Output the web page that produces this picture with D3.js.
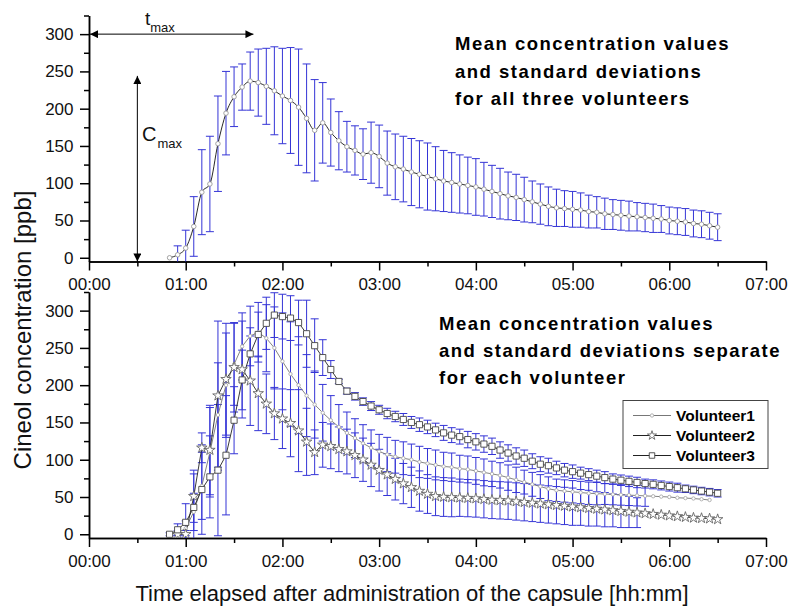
<!DOCTYPE html>
<html>
<head>
<meta charset="utf-8">
<script src="https://cdnjs.cloudflare.com/ajax/libs/d3/7.8.5/d3.min.js"></script>
<style>
  body { margin: 0; background: #fff; }
  svg { font-family: "Liberation Sans", Arial, sans-serif; }
  .axis path, .axis line { stroke: #000; stroke-width: 1.5; }
  .axis text { font-size: 17px; fill: #111; font-family: "Liberation Sans", Arial, sans-serif; }
</style>
</head>
<body>
<div id="chart"></div>
<script>

// sampling times, minutes after administration
var times = [50, 55, 60, 65, 70, 75, 80, 85, 90, 95, 100, 105, 110, 115, 120,
  125, 130, 135, 140, 145, 150, 155, 160, 165, 170, 175, 180, 185, 190, 195,
  200, 205, 210, 215, 220, 225, 230, 235, 240, 245, 250, 255, 260, 265, 270,
  275, 280, 285, 290, 295, 300, 305, 310, 315, 320, 325, 330, 335, 340, 345,
  350, 355, 360, 365, 370, 375, 380, 385, 390];

// mean of all three volunteers
var meanAll = [0, 4, 13, 42, 88, 99, 153, 194, 216, 229, 237, 235, 230, 224, 217,
  211, 202, 187, 171, 181, 168, 157, 149, 144, 139, 141, 136, 127, 122, 119,
  115, 112, 109, 106, 103, 101, 99, 97, 95, 92, 89, 86, 83, 81, 78,
  75, 72, 69, 67, 66, 65, 64, 62, 61, 59, 58, 57, 56, 55, 54,
  53, 52, 50, 49, 48, 46, 45, 43, 41];
var sdAll = [0, 12, 24, 40, 57, 64, 64, 56, 40, 31, 39, 45, 51, 59, 64,
  71, 78, 73, 68, 54, 45, 39, 34, 33, 34, 41, 42, 43, 44, 44,
  45, 45, 45, 43, 41, 40, 39, 38, 38, 36, 35, 34, 32, 31, 30,
  28, 27, 26, 25, 24, 24, 23, 22, 21, 21, 20, 20, 20, 19, 19,
  19, 18, 18, 18, 18, 18, 18, 18, 18];

// separate volunteers
var vol1 = [0, 2, 8, 30, 65, 110, 160, 200, 228, 252, 266, 271, 263, 250, 232,
  215, 200, 186, 174, 163, 153, 144, 136, 129, 122, 116, 111, 107, 104, 102,
  100, 97, 95, 93, 91, 90, 88, 87, 85, 83, 81, 79, 76, 73, 70,
  67, 64, 61, 59, 58, 57, 56, 55, 54.5, 54, 53.5, 53, 52.5, 52, 51.5,
  51, 50.5, 50, 49, 48.5, 48, 47, 46, null];
var sd1 = [0, 3, 10, 25, 45, 60, 70, 70, 55, 45, 40, 40, 45, 55, 65,
  70, 65, 55, 45, 38, 33, 30, 28, 26, 25, 24, 23, 23, 22, 22,
  21, 21, 20, 20, 19, 19, 18, 18, 18, 18, 17, 17, 17, 17, 16,
  16, 16, 16, 15, 15, 15, 15, 15, 15, 14, 14, 14, 14, 14, 14,
  null, null, null, null, null, null, null, null, null];

var vol2 = [null, 0, 0, 51, 116, 113, 186, 208, 224, 221, 206, 189, 175, 162, 155,
  149, 139, 124, 110, 120, 118, 114, 111, 106, 100, 93, 86, 80, 74, 68,
  63, 58, 54, 51, 50, 49.5, 49, 48.5, 48, 47, 46, 45.5, 45, 44, 43,
  42, 41, 40, 39, 38, 37, 36, 35, 34, 33, 32, 31, 30, 29, 28,
  27, 26, 25, 24, 23, 22, 21.5, 21, 20];
var sd2 = [null, 0, 5, 35, 20, 60, 100, 75, 60, 65, 60, 50, 40, 35, 40,
  45, 55, 45, 30, 30, 30, 30, 30, 30, 29, 29, 28, 28, 28, 27,
  27, 27, 26, 26, 26, 26, 25, 25, 25, 25, 25, 25, 25, 25, 25,
  25, 25, 25, 25, 25, 25, 24, 24, 23, 23, 22, 22, 21, 20, null,
  null, null, null, null, null, null, null, null, null];

var vol3 = [0, 6, 16, 36, 60, 77, 86, 106, 153, 207, 242, 268, 283, 294, 292,
  290, 284, 269, 253, 237, 221, 205, 192, 185, 178, 172, 167, 162, 158, 154,
  150, 147, 144, 140, 136, 133, 131, 127, 124, 121, 118, 113, 109, 105, 102,
  98, 94, 92, 89, 86, 84, 82, 80, 78, 76, 74, 72.5, 71, 69.5, 68,
  67, 65.5, 64, 62.5, 61, 59.5, 58, 56.5, 55];
var sd3 = [2, 8, 25, 45, 60, 55, 88, 80, 45, 40, 35, 30, 35, 30, 30,
  30, 30, 45, 36, 24, 12, 3, 4, 5, 5, 6, 6, 7, 7, 8,
  8, 9, 9, 9, 10, 10, 10, 11, 11, 11, 11, 11, 11, 11, 11,
  10, 10, 10, 9, 9, 9, 8, 8, 8, 8, 7, 7, 7, 7, 6,
  6, 6, 6, 6, 5, 5, 5, 5, 5];

// axis ticks
var hourTicks = [0, 60, 120, 180, 240, 300, 360, 420];
var hourLabels = ["00:00", "01:00", "02:00", "03:00", "04:00", "05:00", "06:00", "07:00"];
var halfTicks = [30, 90, 150, 210, 270, 330, 390];
var yTicks = [0, 50, 100, 150, 200, 250, 300];
var yMinor = [25, 75, 125, 175, 225, 275, 325];

// annotation values
var tmaxMin = 102;
var cmaxVal = 244;
var cmaxAt = 30;

var topText = ["Mean concentration values", "and standard deviations", "for all three volunteers"];
var botText = ["Mean concentration values", "and standard deviations separate", "for each volunteer"];
var legendNames = ["Volunteer1", "Volunteer2", "Volunteer3"];

var BAR = "#3434d6";

var svg = d3.select("#chart").append("svg")
    .attr("width", 800)
    .attr("height", 614);

var x = d3.scaleLinear().domain([0, 420]).range([89, 766]);
var yTop = d3.scaleLinear().domain([-5, 325]).range([261.5, 15.5]);
var yBot = d3.scaleLinear().domain([-5, 325]).range([538, 292]);

var defs = svg.append("defs");
defs.append("marker")
    .attr("id", "arrow")
    .attr("viewBox", "0 0 10 10")
    .attr("refX", 10).attr("refY", 5)
    .attr("markerWidth", 12).attr("markerHeight", 8)
    .attr("markerUnits", "userSpaceOnUse")
    .attr("orient", "auto-start-reverse")
    .append("path").attr("d", "M0,0L10,5L0,10Z").attr("fill", "#000");

function make_axes(y, id) {
    var g = svg.append("g");
    var bottom = y.range()[0];

    defs.append("clipPath").attr("id", id)
        .append("rect")
        .attr("x", x.range()[0]).attr("y", y.range()[1])
        .attr("width", x.range()[1] - x.range()[0])
        .attr("height", bottom - y.range()[1]);

    g.append("g").attr("class", "axis")
        .attr("transform", "translate(0," + bottom + ")")
        .call(d3.axisBottom(x).tickValues(halfTicks).tickSize(5).tickSizeOuter(0).tickFormat(""));
    var xa = g.append("g").attr("class", "axis")
        .attr("transform", "translate(0," + bottom + ")")
        .call(d3.axisBottom(x).tickValues(hourTicks).tickSize(9).tickSizeOuter(0)
              .tickFormat(function (d, i) { return hourLabels[i]; }));
    xa.selectAll("text").attr("y", 28.5).attr("dy", 0);

    g.append("g").attr("class", "axis")
        .attr("transform", "translate(" + x.range()[0] + ",0)")
        .call(d3.axisLeft(y).tickValues(yMinor).tickSize(5).tickSizeOuter(0).tickFormat(""));
    g.append("g").attr("class", "axis")
        .attr("transform", "translate(" + x.range()[0] + ",0)")
        .call(d3.axisLeft(y).tickValues(yTicks).tickSize(9).tickSizeOuter(0).tickPadding(6.5));
    return g;
}

function error_bars(g, y, vals, sds) {
    var pts = times.map(function (t, i) { return {t: t, v: vals[i], s: sds[i]}; })
        .filter(function (d) { return d.v != null && d.s != null && d.s > 0; });
    var eb = g.selectAll(null).data(pts).enter().append("g")
        .attr("stroke", BAR).attr("stroke-width", 1).attr("fill", "none");
    eb.append("line")
        .attr("x1", function (d) { return x(d.t); })
        .attr("x2", function (d) { return x(d.t); })
        .attr("y1", function (d) { return y(d.v - d.s); })
        .attr("y2", function (d) { return y(d.v + d.s); });
    [1, -1].forEach(function (k) {
        eb.append("line")
            .attr("x1", function (d) { return x(d.t) - 4; })
            .attr("x2", function (d) { return x(d.t) + 4; })
            .attr("y1", function (d) { return y(d.v + k * d.s); })
            .attr("y2", function (d) { return y(d.v + k * d.s); });
    });
}

function series_line(g, y, vals, colour, curve) {
    var line = d3.line()
        .defined(function (d, i) { return vals[i] != null; })
        .x(function (d) { return x(d); })
        .y(function (d, i) { return y(vals[i]); })
        .curve(curve || d3.curveLinear);
    g.append("path").attr("d", line(times))
        .attr("fill", "none").attr("stroke", colour).attr("stroke-width", 0.9);
}

function markers(g, y, vals, symbol, size, stroke) {
    var pts = times.map(function (t, i) { return {t: t, v: vals[i]}; })
        .filter(function (d) { return d.v != null; });
    g.selectAll(null).data(pts).enter().append("path")
        .attr("d", d3.symbol().type(symbol).size(size))
        .attr("transform", function (d) { return "translate(" + x(d.t) + "," + y(d.v) + ")"; })
        .attr("fill", "#fff").attr("stroke", stroke).attr("stroke-width", 0.9);
}

// ---------- top panel ----------
make_axes(yTop, "clipTop");
var topG = svg.append("g").attr("clip-path", "url(#clipTop)");
error_bars(topG, yTop, meanAll, sdAll);
series_line(topG, yTop, meanAll, "#111", d3.curveMonotoneX);
markers(topG, yTop, meanAll, d3.symbolCircle, 16, "#999");

// t max and C max arrows
svg.append("line")
    .attr("x1", x(0) + 1).attr("x2", x(tmaxMin))
    .attr("y1", yTop(300)).attr("y2", yTop(300))
    .attr("stroke", "#000").attr("stroke-width", 1)
    .attr("marker-start", "url(#arrow)").attr("marker-end", "url(#arrow)");
svg.append("line")
    .attr("x1", x(cmaxAt)).attr("x2", x(cmaxAt))
    .attr("y1", yTop.range()[0]).attr("y2", yTop(cmaxVal))
    .attr("stroke", "#000").attr("stroke-width", 1)
    .attr("marker-start", "url(#arrow)").attr("marker-end", "url(#arrow)");

var tm = svg.append("text").attr("x", 145).attr("y", 25).attr("fill", "#111");
tm.append("tspan").attr("font-size", 19).text("t");
tm.append("tspan").attr("font-size", 13).attr("dx", 0).attr("dy", 6.5).text("max");
var cm = svg.append("text").attr("x", 142).attr("y", 141).attr("fill", "#111");
cm.append("tspan").attr("font-size", 20).text("C");
cm.append("tspan").attr("font-size", 13).attr("dx", 1).attr("dy", 6.5).text("max");

svg.append("g").selectAll("text").data(topText).enter().append("text")
    .attr("x", 455)
    .attr("y", function (d, i) { return 50 + i * 27.5; })
    .attr("font-size", 18.5).attr("font-weight", "bold").attr("letter-spacing", 1.5)
    .attr("fill", "#000")
    .text(function (d) { return d; });

// ---------- bottom panel ----------
make_axes(yBot, "clipBot");
var botG = svg.append("g").attr("clip-path", "url(#clipBot)");
error_bars(botG, yBot, vol1, sd1);
error_bars(botG, yBot, vol2, sd2);
error_bars(botG, yBot, vol3, sd3);
series_line(botG, yBot, vol1, "#777");
series_line(botG, yBot, vol2, "#222");
series_line(botG, yBot, vol3, "#222");
markers(botG, yBot, vol1, d3.symbolCircle, 9, "#aaa");
markers(botG, yBot, vol2, d3.symbolStar, 34, "#666");
markers(botG, yBot, vol3, d3.symbolSquare, 38, "#444");

svg.append("g").selectAll("text").data(botText).enter().append("text")
    .attr("x", 439)
    .attr("y", function (d, i) { return 330 + i * 27.2; })
    .attr("font-size", 18.5).attr("font-weight", "bold").attr("letter-spacing", 1.5)
    .attr("fill", "#000")
    .text(function (d) { return d; });

// legend
var lg = svg.append("g");
lg.append("rect").attr("x", 623).attr("y", 400.5).attr("width", 145).attr("height", 68)
    .attr("fill", "#fff").attr("stroke", "#444").attr("stroke-width", 1);
var legendStyle = [
    {colour: "#777", symbol: d3.symbolCircle, size: 9, stroke: "#aaa"},
    {colour: "#222", symbol: d3.symbolStar, size: 26, stroke: "#666"},
    {colour: "#222", symbol: d3.symbolSquare, size: 30, stroke: "#444"}
];
legendNames.forEach(function (name, i) {
    var cy = 415.5 + i * 20;
    var s = legendStyle[i];
    lg.append("line").attr("x1", 633).attr("x2", 671).attr("y1", cy).attr("y2", cy)
        .attr("stroke", s.colour).attr("stroke-width", 1);
    lg.append("path").attr("d", d3.symbol().type(s.symbol).size(s.size))
        .attr("transform", "translate(652," + cy + ")")
        .attr("fill", "#fff").attr("stroke", s.stroke).attr("stroke-width", 0.9);
    lg.append("text").attr("x", 676).attr("y", cy + 5)
        .attr("font-size", 15.5).attr("font-weight", "bold").attr("fill", "#000")
        .text(name);
});

// axis titles
svg.append("text")
    .attr("x", 412).attr("y", 601)
    .attr("text-anchor", "middle").attr("font-size", 22).attr("fill", "#111")
    .text("Time elapsed after administration of the capsule [hh:mm]");
svg.append("text")
    .attr("transform", "translate(31,330) rotate(-90)")
    .attr("text-anchor", "middle").attr("font-size", 24).attr("fill", "#111")
    .text("Cineol concentration [ppb]");

</script>
</body>
</html>
